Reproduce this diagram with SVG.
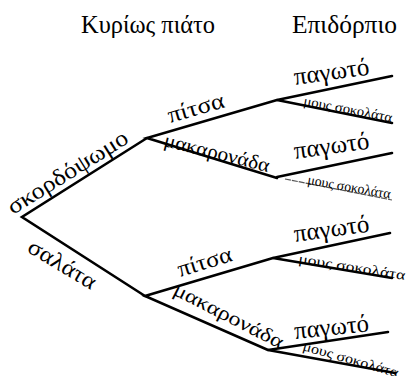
<svg xmlns="http://www.w3.org/2000/svg" width="408" height="376" viewBox="0 0 408 376">
<style>
.t{font-family:"Liberation Serif","DejaVu Serif",serif;fill:#000}
.h{font-size:25px}
.l{font-size:23px}
.p{font-size:25px}
.m{font-size:20px}
.s{font-size:14px}
.e{stroke:#000;stroke-width:2.6;fill:none;stroke-linecap:round}
.thin{stroke:#555;stroke-width:1.2;fill:none;stroke-dasharray:6 1}
</style>
<rect width="408" height="376" fill="#fff"/>
<g id="headers">
<text class="t h" x="81" y="33" textLength="134" lengthAdjust="spacingAndGlyphs">Κυρίως πιάτο</text>
<text class="t h" x="292" y="33" textLength="105" lengthAdjust="spacingAndGlyphs">Επιδόρπιο</text>
</g>
<g id="connectors">
<path class="e" d="M147,138 L22,217 L145,296"/>
<path class="e" d="M277,100 L147,138 L277,178"/>
<path class="e" d="M392,76 L277,100 L392,123"/>
<path class="e" d="M392,153 L277,177"/>
<path class="thin" d="M285,179 L392,200"/>
<path class="e" d="M273,258 L145,296 L268,350"/>
<path class="e" d="M390,233 L273,258 L392,278"/>
<path class="e" d="M388,332 L268,350 L395,373"/>
</g>
<g id="n-skordopsomo"><text class="t l" transform="translate(13,215) rotate(-32)" textLength="138" lengthAdjust="spacingAndGlyphs">σκορδόψωμο</text></g>
<g id="n-salata"><text class="t l" transform="translate(26,251) rotate(31)" textLength="76" lengthAdjust="spacingAndGlyphs">σαλάτα</text></g>
<g id="n-pitsa1"><text class="t l" transform="translate(170,123) rotate(-16)" textLength="58" lengthAdjust="spacingAndGlyphs">πίτσα</text></g>
<g id="n-makaronada1"><text class="t m" transform="translate(163,146) rotate(14)" textLength="108" lengthAdjust="spacingAndGlyphs">μακαρονάδα</text></g>
<g id="n-pagoto1"><text class="t p" transform="translate(295,85) rotate(-8)" textLength="76" lengthAdjust="spacingAndGlyphs">παγωτό</text></g>
<g id="n-mous1"><text class="t s" transform="translate(303,105) rotate(11)" textLength="90" lengthAdjust="spacingAndGlyphs">μους σοκολάτα</text></g>
<g id="n-pagoto2"><text class="t p" transform="translate(295,159) rotate(-8)" textLength="76" lengthAdjust="spacingAndGlyphs">παγωτό</text></g>
<g id="n-mous2"><text class="t s" transform="translate(307,184) rotate(10)" textLength="84" lengthAdjust="spacingAndGlyphs">μους σοκολάτα</text></g>
<g id="n-pitsa2"><text class="t l" transform="translate(180,277) rotate(-17)" textLength="56" lengthAdjust="spacingAndGlyphs">πίτσα</text></g>
<g id="n-makaronada2"><text class="t m" transform="translate(172,294) rotate(27)" textLength="121" lengthAdjust="spacingAndGlyphs">μακαρονάδα</text></g>
<g id="n-pagoto3"><text class="t p" transform="translate(295,242) rotate(-8)" textLength="76" lengthAdjust="spacingAndGlyphs">παγωτό</text></g>
<g id="n-mous3"><text class="t s" transform="translate(298,263) rotate(9)" textLength="108" lengthAdjust="spacingAndGlyphs">μους σοκολάτα</text></g>
<g id="n-pagoto4"><text class="t p" transform="translate(295,339) rotate(-6)" textLength="75" lengthAdjust="spacingAndGlyphs">παγωτό</text></g>
<g id="n-mous4"><text class="t s" transform="translate(302,350) rotate(16)" textLength="99" lengthAdjust="spacingAndGlyphs">μους σοκολάτα</text></g>
</svg>
